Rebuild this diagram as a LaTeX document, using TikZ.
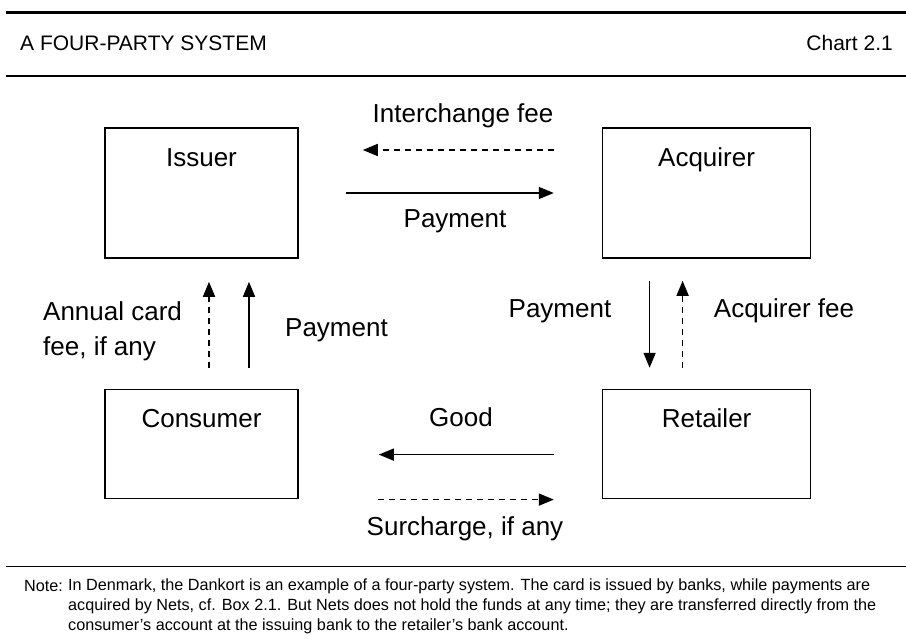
\documentclass[tikz,border=0pt]{standalone}
\usepackage{fontspec}
\setmainfont{Liberation Sans}
\usetikzlibrary{arrows.meta}
\usetikzlibrary{positioning}

\begin{document}
\begin{tikzpicture}[x=1pt,y=-1pt]
% 1 = 1px of the page
    \def\GAPX{303pt} % between the two columns of boxes
    \def\GAPY{130pt} % between the two rows of boxes
    \def\NAMEDROP{-39pt} % baseline of a box name below the top edge
    \def\NOTEY{566} % rule above the note

    \tikzset{
      party/.style={draw, line width=1.6pt, inner sep=0pt},
      partyname/.style={anchor=base, inner sep=0pt,
        font=\fontsize{26}{30}\selectfont},
      flowtext/.style={anchor=base, inner sep=0pt,
        font=\fontsize{26}{35}\selectfont},
      notetext/.style={anchor=base west, inner sep=0pt,
        font=\fontsize{16.2}{20}\selectfont},
      money/.style={-{Triangle[length=15pt,width=12pt]}, line width=1.4pt},
      fee/.style={money, line width=1.7pt, dash pattern=on 6pt off 5pt},
    }

    \useasboundingbox (0,0) rectangle (906,644);

    % HEADER
    \draw[line width=3pt] (6,13) -- (906,13);
    \node[anchor=base west, inner sep=0pt, font=\fontsize{21}{24}\selectfont]
        (title) at (20,51) {A FOUR-PARTY SYSTEM};
    \node[anchor=base east, inner sep=0pt, font=\fontsize{21}{24}\selectfont]
        (chartno) at (893,51) {Chart 2.1};
    \draw[line width=2pt] (6,76) -- (906,76);

    % BOXES
    \node[party, minimum width=193pt, minimum height=130pt] (issuer) at (201.5,193) {};
    \node[party, minimum width=208pt, minimum height=130pt,
        right=\GAPX of issuer] (acquirer) {};
    \node[party, minimum width=193pt, minimum height=109pt,
        below=\GAPY of issuer] (consumer) {};
    \node[party, minimum width=208pt, minimum height=109pt,
        below=\GAPY of acquirer] (retailer) {};

    \node[partyname] (issuername) at ([yshift=\NAMEDROP]issuer.north) {Issuer};
    \node[partyname] (acquirername) at ([yshift=\NAMEDROP]acquirer.north) {Acquirer};
    \node[partyname] (consumername) at ([yshift=\NAMEDROP]consumer.north) {Consumer};
    \node[partyname] (retailername) at ([yshift=\NAMEDROP]retailer.north) {Retailer};

    % BETWEEN THE BANKS
    \draw[fee, shorten <=48pt, shorten >=64pt]
        ([yshift=43pt]acquirer.west) -- ([yshift=43pt]issuer.east);
    \node[flowtext] (interchange) at (463,123) {Interchange fee};
    \draw[money, shorten <=47pt, shorten >=48pt] (issuer.east) -- (acquirer.west);
    \node[flowtext] (bankpay) at (455,228) {Payment};

    % CONSUMER AND ISSUER
    \draw[fee, shorten <=21pt, shorten >=23pt]
        ([xshift=7.5pt]consumer.north) -- ([xshift=7.5pt]issuer.south);
    \draw[money, shorten <=21pt, shorten >=23pt]
        ([xshift=47.5pt]consumer.north) -- ([xshift=47.5pt]issuer.south);
    \node[flowtext, anchor=north west, align=left] (cardfee) at (43,301)
        {Annual card\\fee, if any};
    \node[flowtext] (cardpay) at (336.5,337) {Payment};

    % ACQUIRER AND RETAILER
    \draw[money, shorten <=22pt, shorten >=21pt]
        ([xshift=-57pt]acquirer.south) -- ([xshift=-57pt]retailer.north);
    \draw[fee, shorten <=21pt, shorten >=22pt]
        ([xshift=-24pt]retailer.north) -- ([xshift=-24pt]acquirer.south);
    \node[flowtext] (shoppay) at (560,318) {Payment};
    \node[flowtext] (acquirerfee) at (784,318) {Acquirer fee};

    % RETAILER AND CONSUMER
    \draw[money, shorten <=48pt, shorten >=80pt]
        ([yshift=-10.5pt]retailer.west) -- ([yshift=-10.5pt]consumer.east);
    \node[flowtext] (good) at (461,427) {Good};
    \draw[fee, shorten <=79pt, shorten >=48pt]
        ([yshift=-55.5pt]consumer.east) -- ([yshift=-55.5pt]retailer.west);
    \node[flowtext] (surcharge) at (465,536) {Surcharge, if any};

    % NOTE
    \draw[line width=1pt] (6,\NOTEY) -- (906,\NOTEY);
    \node[notetext] (notehead) at (24,\NOTEY+25) {Note:};
    \node[notetext, anchor=north west, align=left] (notebody) at (68,\NOTEY+13)
        {In Denmark, the Dankort is an example of a four-party system. The card is issued by banks, while payments are\\
         acquired by Nets, cf. Box 2.1. But Nets does not hold the funds at any time; they are transferred directly from the\\
         consumer's account at the issuing bank to the retailer's bank account.};

\end{tikzpicture}
\end{document}
